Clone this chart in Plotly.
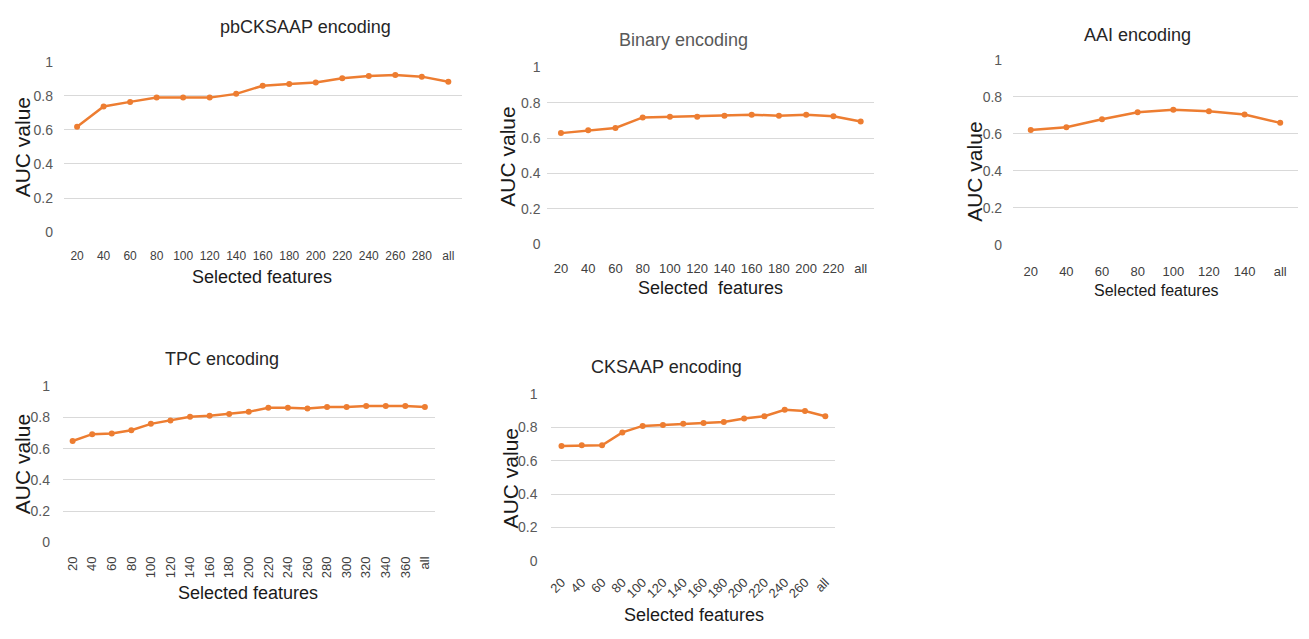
import plotly.graph_objects as go

W, H = 1309, 639
ORANGE = "#ED7D31"
GRID = "#d9d9d9"
FONT = "Liberation Sans, Arial, sans-serif"

# ---------------- data ----------------
pb_features = ["20", "40", "60", "80", "100", "120", "140", "160", "180", "200",
               "220", "240", "260", "280", "all"]
pb_auc = [0.619, 0.737, 0.764, 0.789, 0.789, 0.789, 0.811, 0.859, 0.869, 0.878,
          0.903, 0.916, 0.922, 0.912, 0.882]

bin_features = ["20", "40", "60", "80", "100", "120", "140", "160", "180", "200", "220", "all"]
bin_auc = [0.628, 0.644, 0.657, 0.717, 0.721, 0.721, 0.727, 0.732, 0.727, 0.732, 0.723, 0.694]

aai_features = ["20", "40", "60", "80", "100", "120", "140", "all"]
aai_auc = [0.621, 0.635, 0.678, 0.716, 0.730, 0.722, 0.704, 0.659]

tpc_features = ["20", "40", "60", "80", "100", "120", "140", "160", "180", "200",
                "220", "240", "260", "280", "300", "320", "340", "360", "all"]
tpc_auc = [0.649, 0.693, 0.697, 0.718, 0.759, 0.780, 0.805, 0.811, 0.822, 0.836,
           0.863, 0.863, 0.857, 0.867, 0.867, 0.873, 0.873, 0.873, 0.867]

ck_features = ["20", "40", "60", "80", "100", "120", "140", "160", "180", "200",
               "220", "240", "260", "all"]
ck_auc = [0.689, 0.693, 0.693, 0.770, 0.809, 0.814, 0.822, 0.826, 0.832, 0.854,
          0.867, 0.906, 0.898, 0.867]

titles = ["pbCKSAAP encoding", "Binary encoding", "AAI encoding", "TPC encoding", "CKSAAP encoding"]
x_titles = ["Selected features", "Selected\u00a0 features", "Selected features",
            "Selected features", "Selected features"]
y_title = "AUC value"
y_ticks = [0, 0.2, 0.4, 0.6, 0.8, 1]
y_ticktext = ["0", "0.2", "0.4", "0.6", "0.8", "1"]

series = [(pb_features, pb_auc), (bin_features, bin_auc), (aai_features, aai_auc),
          (tpc_features, tpc_auc), (ck_features, ck_auc)]

# ---------------- layout (pixel geometry) ----------------
panels = [
    dict(px=(60, 459), py=(230, 55), angle=0, xlen=12, ylen=7, tcol="#262626",
         xfont=12, title=(302, 20), xt=(259, 276, 18), yt=(18, 143)),
    dict(px=(545, 873), py=(242, 61), angle=0, xlen=12, ylen=3, tcol="#595959",
         xfont=13, title=(682, 33), xt=(709, 287, 18), yt=(505, 152)),
    dict(px=(1012, 1298), py=(243, 53), angle=0, xlen=14, ylen=7, tcol="#262626",
         xfont=13, title=(1137, 28), xt=(1156, 290, 16), yt=(974, 168)),
    dict(px=(59, 432), py=(548, 388), angle=-90, xlen=8, ylen=9, tcol="#262626",
         xfont=13, title=(219, 360), xt=(245, 600, 18), yt=(18, 468)),
    dict(px=(549, 834), py=(567, 396), angle=-45, xlen=8, ylen=10, tcol="#262626",
         xfont=13, title=(665, 368), xt=(692, 623, 18), yt=(508, 482)),
]


def fx(p):
    return p / W


def fy(p):
    return 1 - p / H


fig = go.Figure()
annotations = []
for i, ((cats, vals), pn) in enumerate(zip(series, panels)):
    n = "" if i == 0 else str(i + 1)
    fig.add_trace(go.Scatter(
        x=cats, y=vals, mode="lines+markers",
        line=dict(color=ORANGE, width=2.5),
        marker=dict(color=ORANGE, size=6),
        xaxis="x" + n, yaxis="y" + n, showlegend=False,
    ))
    fig.layout["xaxis" + n] = dict(
        domain=[fx(pn["px"][0]), fx(pn["px"][1])], anchor="y" + n,
        type="category", categoryorder="array", categoryarray=cats,
        range=[-0.5, len(cats) - 0.5], autorange=False,
        showgrid=False, showline=False, zeroline=False,
        ticks="outside", ticklen=pn["xlen"], tickcolor="rgba(0,0,0,0)",
        tickangle=pn["angle"],
        tickfont=dict(family=FONT, size=pn["xfont"], color="#404040"),
        fixedrange=True,
    )
    fig.layout["yaxis" + n] = dict(
        domain=[fy(pn["py"][0]), fy(pn["py"][1])], anchor="x" + n,
        range=[0, 1], autorange=False, tickvals=y_ticks, ticktext=y_ticktext,
        showgrid=True, gridcolor=GRID, gridwidth=1, zeroline=False, showline=False,
        ticks="outside", ticklen=pn["ylen"], tickcolor="rgba(0,0,0,0)",
        tickfont=dict(family=FONT, size=14, color="#595959"),
        fixedrange=True,
    )
    annotations.append(dict(
        text=titles[i], x=fx(pn["title"][0]), y=fy(pn["title"][1]),
        xref="paper", yref="paper", showarrow=False, xanchor="center", yanchor="middle",
        font=dict(family=FONT, size=18, color=pn["tcol"]),
    ))
    annotations.append(dict(
        text=x_titles[i], x=fx(pn["xt"][0]), y=fy(pn["xt"][1]),
        xref="paper", yref="paper", showarrow=False, xanchor="center", yanchor="middle",
        font=dict(family=FONT, size=pn["xt"][2], color="#1a1a1a"),
    ))
    annotations.append(dict(
        text=y_title, x=fx(pn["yt"][0]), y=fy(pn["yt"][1]), textangle=-90,
        xref="paper", yref="paper", showarrow=False, xanchor="center", yanchor="middle",
        font=dict(family=FONT, size=21, color="#1a1a1a"),
    ))

fig.update_layout(
    width=W, height=H, margin=dict(l=0, r=0, t=0, b=0),
    paper_bgcolor="white", plot_bgcolor="white",
    annotations=annotations, showlegend=False,
)

fig.write_html("out.html")
